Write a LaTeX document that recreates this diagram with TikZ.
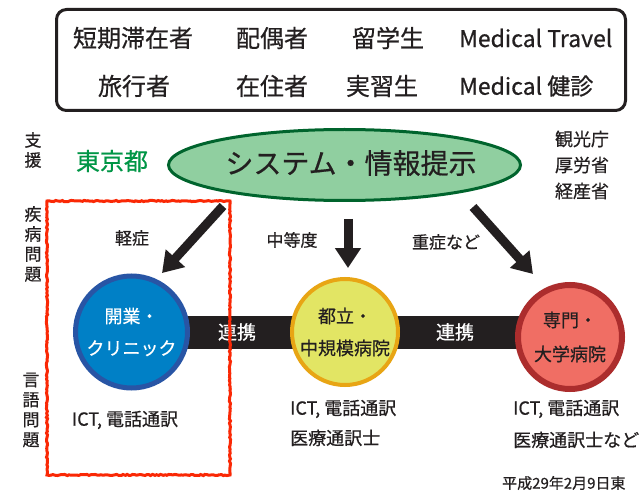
\documentclass[tikz,border=0pt]{standalone}
\usepackage{fontspec}
\setmainfont{Noto Sans CJK JP}[FakeBold=0.6]
\usetikzlibrary{shapes.geometric,arrows.meta,decorations.pathmorphing,backgrounds}
\definecolor{ink}{RGB}{35,31,32}
\definecolor{tokyogreen}{RGB}{0,150,70}
\definecolor{ellfill}{RGB}{144,207,160}
\definecolor{elldraw}{RGB}{0,100,45}
\definecolor{bluefill}{RGB}{0,128,198}
\definecolor{bluedraw}{RGB}{40,85,165}
\definecolor{yelfill}{RGB}{226,229,100}
\definecolor{yeldraw}{RGB}{232,165,20}
\definecolor{redfill}{RGB}{240,110,100}
\definecolor{reddraw}{RGB}{172,45,45}
\definecolor{marker}{RGB}{250,40,5}
\tikzset{
  txt/.style={text=ink, inner sep=0pt},
  boxtxt/.style={txt, font=\fontsize{24}{28}\selectfont},
  sidetxt/.style={txt, align=center, font=\fontsize{17}{20}\selectfont},
  armtxt/.style={txt, font=\fontsize{17}{20}\selectfont},
  bigarrow/.style={draw=ink, line width=9pt, -{Triangle[width=25pt,length=20pt]}},
  hosp/.style={circle, inner sep=0pt, align=center},
  bar/.style={draw=ink, line width=33pt},
  bartxt/.style={text=white, inner sep=0pt, font=\fontsize{19}{22}\selectfont},
  infotxt/.style={txt, align=left, font=\fontsize{18}{30}\selectfont},
}
\begin{document}
\begin{tikzpicture}[x=1pt,y=-1pt]
\useasboundingbox (0,0) rectangle (639,494);
\begin{scope}[on background layer]
\fill[white] (0,0) rectangle (639,494);
\end{scope}
% top box
\draw[ink, line width=3pt, rounded corners=10pt] (56.5,9.5) rectangle (625.5,110.5);
\node[boxtxt] (t1) at (133,38) {短期滞在者};
\node[boxtxt] (t2) at (272,38) {配偶者};
\node[boxtxt] (t3) at (388,38) {留学生};
\node[boxtxt, anchor=west, font=\fontsize{23}{28}\selectfont] (t4) at (459,38) {Medical Travel};
\node[boxtxt] (t5) at (134,86) {旅行者};
\node[boxtxt] (t6) at (272,86) {在住者};
\node[boxtxt] (t7) at (382,86) {実習生};
\node[boxtxt, anchor=west, font=\fontsize{23}{28}\selectfont] (t8) at (459,86) {Medical 健診};
% side labels
\node[sidetxt] (s1) at (33,150) {支\\援};
\node[sidetxt] (s2) at (33,244) {疾\\病\\問\\題};
\node[sidetxt] (s3) at (31,410) {言\\語\\問\\題};
\node[txt, text=tokyogreen, font=\fontsize{24}{28}\selectfont] (tokyo) at (112,161) {東京都};
\node[txt, align=center, font=\fontsize{18}{26}\selectfont] (min) at (582,165) {観光庁\\厚労省\\経産省};
% ellipse
\node[ellipse, draw=elldraw, fill=ellfill, line width=3pt, minimum width=352pt, minimum height=71pt] (sys) at (344.5,165) {};
\node[txt, font=\fontsize{28}{32}\selectfont] (systxt) at (351,163) {システム・情報提示};
% arrows
\coordinate (a1s) at (223,206); \coordinate (a1e) at (162,273);
\coordinate (a2s) at (348,219); \coordinate (a2e) at (348,268);
\coordinate (a3s) at (473,207); \coordinate (a3e) at (533,274);
\draw[bigarrow] (a1s) -- (a1e);
\draw[bigarrow] (a2s) -- (a2e);
\draw[bigarrow] (a3s) -- (a3e);
\node[armtxt] (l1) at (132,238) {軽症};
\node[armtxt] (l2) at (292,240) {中等度};
\node[armtxt] (l3) at (446,242) {重症など};
% hospitals
\node[hosp, fill=bluefill, draw=bluedraw, line width=5pt, minimum size=112pt, text=white, font=\fontsize{18}{32}\selectfont] (blue) at (131.5,332) {開業・\\クリニック};
\node[hosp, fill=yelfill, draw=yeldraw, line width=4pt, minimum size=106pt, text=ink, font=\fontsize{18}{32}\selectfont] (yellow) at (345,332) {都立・\\中規模病院};
\node[hosp, fill=redfill, draw=reddraw, line width=6pt, minimum size=104pt, text=ink, font=\fontsize{18}{34}\selectfont] (red) at (570,337) {専門・\\大学病院};
\begin{scope}[on background layer]
\draw[bar] (blue.center) -- (yellow.center);
\draw[bar] (yellow.center) -- (red.center |- yellow.center);
\end{scope}
\node[bartxt] (c1) at (237,332) {連携};
\node[bartxt] (c2) at (455,332) {連携};
% info
\node[infotxt] (i1) at (125,420) {ICT, 電話通訳};
\node[infotxt, anchor=west] (i2) at (290,423) {ICT, 電話通訳\\医療通訳士};
\node[infotxt, anchor=west, font=\fontsize{18}{32}\selectfont] (i3) at (513,424) {ICT, 電話通訳\\医療通訳士など};
\node[txt, anchor=west, font=\fontsize{15}{18}\selectfont] (date) at (502,483) {平成29年2月9日東};
% red marker box
\draw[marker, line width=3pt, decorate, decoration={random steps, segment length=2pt, amplitude=0.6pt}] (47,201) rectangle (230,475);
\end{tikzpicture}
\end{document}
